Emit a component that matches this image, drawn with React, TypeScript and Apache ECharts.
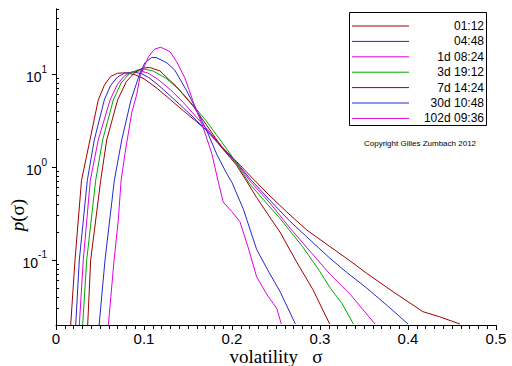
import { useEffect, useRef } from 'react';
import * as echarts from 'echarts';

const seriesNames = ['01:12', '04:48', '1d 08:24', '3d 19:12', '7d 14:24', '30d 10:48', '102d 09:36'];
const seriesColors = ['#a00000', '#2828c8', '#e000e0', '#00a800', '#a00000', '#2828c8', '#e000e0'];

const s01Sigma = [0.0167, 0.0216, 0.029, 0.0386, 0.048, 0.055, 0.062, 0.07, 0.08, 0.09, 0.1, 0.115, 0.13, 0.145, 0.16, 0.175, 0.19, 0.205, 0.222, 0.242, 0.262, 0.285, 0.311, 0.334, 0.353, 0.383, 0.417, 0.436, 0.459];
const s01P = [0.02, 0.1, 0.72, 1.95, 5.25, 7.6, 9.4, 10.2, 10.3, 9.8, 8.9, 7.0, 5.3, 4.0, 3.05, 2.3, 1.6, 1.15, 0.78, 0.5, 0.33, 0.21, 0.14, 0.098, 0.072, 0.0456, 0.0278, 0.0245, 0.0205];

const s04Sigma = [0.0224, 0.0265, 0.0356, 0.0435, 0.0549, 0.062, 0.07, 0.078, 0.088, 0.097, 0.105, 0.115, 0.13, 0.145, 0.16, 0.175, 0.19, 0.205, 0.222, 0.244, 0.266, 0.29, 0.311, 0.33, 0.353, 0.377, 0.4];
const s04P = [0.02, 0.1, 0.72, 1.95, 5.25, 7.5, 9.3, 10.2, 10.5, 10.1, 9.2, 7.8, 5.8, 4.3, 3.15, 2.25, 1.55, 1.12, 0.72, 0.43, 0.26, 0.16, 0.105, 0.074, 0.05, 0.032, 0.0205];

const s1dSigma = [0.0265, 0.031, 0.039, 0.048, 0.0614, 0.07, 0.078, 0.087, 0.095, 0.104, 0.115, 0.13, 0.145, 0.16, 0.175, 0.19, 0.205, 0.222, 0.244, 0.266, 0.29, 0.311, 0.335, 0.3625];
const s1dP = [0.02, 0.1, 0.72, 1.95, 5.25, 7.8, 9.6, 10.6, 10.8, 10.3, 8.9, 6.8, 4.9, 3.4, 2.35, 1.55, 1.1, 0.68, 0.4, 0.22, 0.12, 0.071, 0.042, 0.0205];

const s3dSigma = [0.0303, 0.0349, 0.0451, 0.053, 0.0651, 0.074, 0.083, 0.092, 0.1, 0.11, 0.125, 0.14, 0.155, 0.17, 0.185, 0.2, 0.22, 0.24, 0.2545, 0.28, 0.3, 0.311, 0.325, 0.338];
const s3dP = [0.02, 0.1, 0.72, 1.95, 5.25, 8, 10, 11, 11.3, 10.8, 9.0, 6.8, 4.7, 3.2, 2.05, 1.3, 0.66, 0.4, 0.28, 0.14, 0.075, 0.051, 0.034, 0.0205];

const s7dSigma = [0.036, 0.0394, 0.0508, 0.0576, 0.07, 0.08, 0.09, 0.098, 0.106, 0.118, 0.137, 0.156, 0.175, 0.19, 0.205, 0.216, 0.228, 0.245, 0.2545, 0.2735, 0.292, 0.311];
const s7dP = [0.02, 0.1, 0.72, 1.95, 5.25, 8.3, 10.5, 11.5, 11.8, 10.8, 7.3, 4.5, 2.5, 1.55, 1.05, 0.72, 0.47, 0.27, 0.2, 0.095, 0.048, 0.0205];

const s30dSigma = [0.049, 0.0557, 0.0663, 0.0747, 0.0852, 0.095, 0.101, 0.109, 0.114, 0.126, 0.135, 0.1485, 0.156, 0.171, 0.183, 0.194, 0.2, 0.213, 0.228, 0.24, 0.255, 0.272];
const s30dP = [0.02, 0.1, 0.72, 1.95, 5.25, 10, 13.2, 15.1, 15, 13.2, 11, 6.6, 4.8, 2.5, 1.35, 0.85, 0.68, 0.35, 0.13, 0.08, 0.045, 0.0205];

const s102dSigma = [0.0595, 0.066, 0.0708, 0.074, 0.0784, 0.086, 0.0917, 0.0955, 0.105, 0.112, 0.119, 0.1295, 0.137, 0.1466, 0.156, 0.167, 0.177, 0.184, 0.19, 0.2, 0.209, 0.218, 0.228, 0.24, 0.251, 0.256];
const s102dP = [0.02, 0.1, 0.27, 0.72, 1.4, 3.8, 6, 9.4, 15.3, 18.5, 19.4, 17.4, 13.6, 9.0, 5.0, 2.7, 1.4, 0.72, 0.42, 0.33, 0.258, 0.14, 0.066, 0.042, 0.03, 0.0205];

const sigmaLists = [s01Sigma, s04Sigma, s1dSigma, s3dSigma, s7dSigma, s30dSigma, s102dSigma];
const pLists = [s01P, s04P, s1dP, s3dP, s7dP, s30dP, s102dP];

const yMajorTicks = [0.1, 1, 10];
const yMinorTicks = [0.02, 0.03, 0.04, 0.05, 0.06, 0.07, 0.08, 0.09, 0.2, 0.3, 0.4, 0.5, 0.6, 0.7, 0.8, 0.9, 2, 3, 4, 5, 6, 7, 8, 9, 20, 30, 40, 50];

const xAxisTitle = 'volatility   σ';
const copyrightText = 'Copyright Gilles Zumbach 2012';

const SANS = '"Liberation Sans", Arial, Helvetica, sans-serif';
const SERIF = '"Liberation Serif", "Times New Roman", serif';

export default function App() {
  const ref = useRef<HTMLDivElement>(null);
  useEffect(() => {
    if (!ref.current) return;
    const chart = echarts.init(ref.current, null, { renderer: 'svg' });
    const series = seriesNames.map((name, i) => ({
      name,
      type: 'line',
      data: sigmaLists[i].map((s, j) => [s, pLists[i][j]]),
      showSymbol: false,
      symbol: 'none',
      lineStyle: { color: seriesColors[i], width: 1 },
      itemStyle: { color: seriesColors[i] },
      clip: true,
      z: 2,
    }));
    const legendTop = 26;
    const legendStep = 15.4;
    const graphic: any[] = [
      {
        type: 'rect',
        z: 100,
        shape: { x: 349.5, y: 12.5, width: 137, height: 113 },
        style: { fill: '#fff', stroke: '#000', lineWidth: 1 },
      },
      ...seriesNames.map((_, i) => ({
        type: 'line',
        z: 101,
        shape: { x1: 352, y1: legendTop + i * legendStep, x2: 409, y2: legendTop + i * legendStep },
        style: { stroke: seriesColors[i], lineWidth: 1 },
      })),
      ...seriesNames.map((n, i) => ({
        type: 'text',
        z: 101,
        x: 484,
        y: legendTop + i * legendStep,
        style: { text: n, align: 'right', verticalAlign: 'middle', font: `12px ${SANS}`, fill: '#000' },
      })),
      {
        type: 'text',
        z: 101,
        x: 420,
        y: 143,
        style: { text: copyrightText, align: 'center', verticalAlign: 'middle', font: `8px ${SANS}`, fill: '#000' },
      },
      {
        type: 'text',
        z: 101,
        x: 17,
        y: 215,
        rotation: Math.PI / 2,
        style: {
          text: '{i|p}(σ)',
          align: 'center',
          verticalAlign: 'middle',
          font: `19px ${SERIF}`,
          fill: '#000',
          rich: { i: { fontStyle: 'italic', fontSize: 19, fontFamily: SERIF } },
        },
      },
    ];
    chart.setOption({
      animation: false,
      backgroundColor: '#fff',
      grid: { left: 56, right: 16, top: 9, bottom: 41, containLabel: false, outerBoundsMode: 'none' },
      xAxis: {
        type: 'value',
        min: 0,
        max: 0.5,
        interval: 0.1,
        axisLine: { show: true, onZero: false, lineStyle: { color: '#000', width: 1 } },
        axisTick: { show: true, length: 5, lineStyle: { color: '#000' } },
        minorTick: { show: true, splitNumber: 10, length: 4, lineStyle: { color: '#000' } },
        splitLine: { show: false },
        minorSplitLine: { show: false },
        axisLabel: { color: '#000', fontSize: 15, lineHeight: 14, fontFamily: SANS, margin: 6 },
        name: xAxisTitle,
        nameLocation: 'middle',
        nameGap: 22,
        nameMoveOverlap: false,
        nameTextStyle: { fontFamily: SERIF, fontSize: 19, color: '#000', lineHeight: 18 },
      },
      yAxis: [
        {
          type: 'log',
          logBase: 10,
          min: 0.02,
          max: 50,
          position: 'left',
          axisLine: { show: true, lineStyle: { color: '#000', width: 1 } },
          axisTick: { show: true, length: 4, customValues: yMajorTicks, lineStyle: { color: '#000' } },
          axisLabel: {
            customValues: yMajorTicks,
            margin: 9,
            formatter: (v: number) => `{b|10}{s|${Math.round(Math.log10(v))}}`,
            rich: {
              b: { fontSize: 14, fontFamily: SANS, color: '#000', lineHeight: 20, verticalAlign: 'bottom' },
              s: { fontSize: 10, fontFamily: SANS, color: '#000', lineHeight: 20, verticalAlign: 'top' },
            },
          },
          splitLine: { show: false },
        },
        {
          type: 'log',
          logBase: 10,
          min: 0.02,
          max: 50,
          position: 'left',
          offset: 0,
          axisLine: { show: true, lineStyle: { color: '#000', width: 1 } },
          axisTick: { show: true, inside: true, length: 3, customValues: yMinorTicks, lineStyle: { color: '#000' } },
          axisLabel: { show: false },
          splitLine: { show: false },
        },
      ],
      series,
      graphic,
    });
    return () => chart.dispose();
  }, []);
  return <div ref={ref} style={{ position: 'fixed', left: 0, top: 0, width: 512, height: 366, background: '#fff' }} />;
}
